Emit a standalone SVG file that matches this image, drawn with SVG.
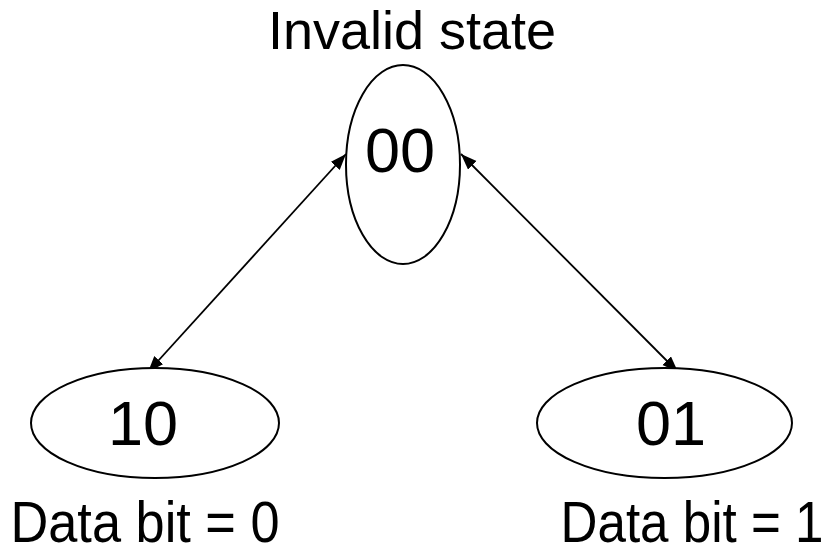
<svg xmlns="http://www.w3.org/2000/svg" width="826" height="552" viewBox="0 0 826 552">
  <style>
    .state { fill: #ffffff; stroke: #000000; stroke-width: 2; }
    .edge { fill: none; stroke: #000000; stroke-width: 1.8; }
    .lbl { font-family: "Liberation Sans", Arial, sans-serif; fill: #000000; }
    .big { font-size: 63px; }
    .cap { font-size: 54px; }
    .note { font-size: 58px; }
  </style>
  <defs>
    <marker id="arrow" markerUnits="userSpaceOnUse" markerWidth="17" markerHeight="13" refX="16" refY="6" orient="auto-start-reverse">
      <path d="M0,0 L16,6 L0,12 z" fill="#000000"/>
    </marker>
  </defs>
  <rect width="826" height="552" fill="#ffffff"/>

  <!-- connectors -->
  <g id="connectors">
    <line class="edge" x1="148" y1="372" x2="346" y2="154" marker-start="url(#arrow)" marker-end="url(#arrow)"/>
    <line class="edge" x1="461" y1="154" x2="678" y2="372" marker-start="url(#arrow)" marker-end="url(#arrow)"/>
  </g>

  <!-- invalid state -->
  <g id="state-00">
    <ellipse class="state" cx="403" cy="164.5" rx="57" ry="99.5"/>
    <text class="lbl big" x="400" y="172" text-anchor="middle">00</text>
    <text class="lbl cap" x="412" y="49" text-anchor="middle">Invalid state</text>
  </g>

  <!-- data bit 0 -->
  <g id="state-10">
    <ellipse class="state" cx="155" cy="423" rx="124" ry="55"/>
    <text class="lbl big" x="143" y="445" text-anchor="middle">10</text>
    <text class="lbl note" x="10.5" y="542" textLength="269" lengthAdjust="spacingAndGlyphs">Data bit = 0</text>
  </g>

  <!-- data bit 1 -->
  <g id="state-01">
    <ellipse class="state" cx="664.5" cy="423" rx="127.5" ry="55"/>
    <text class="lbl big" x="671" y="445" text-anchor="middle">01</text>
    <text class="lbl note" x="560.5" y="542" textLength="263" lengthAdjust="spacingAndGlyphs">Data bit = 1</text>
  </g>
</svg>
